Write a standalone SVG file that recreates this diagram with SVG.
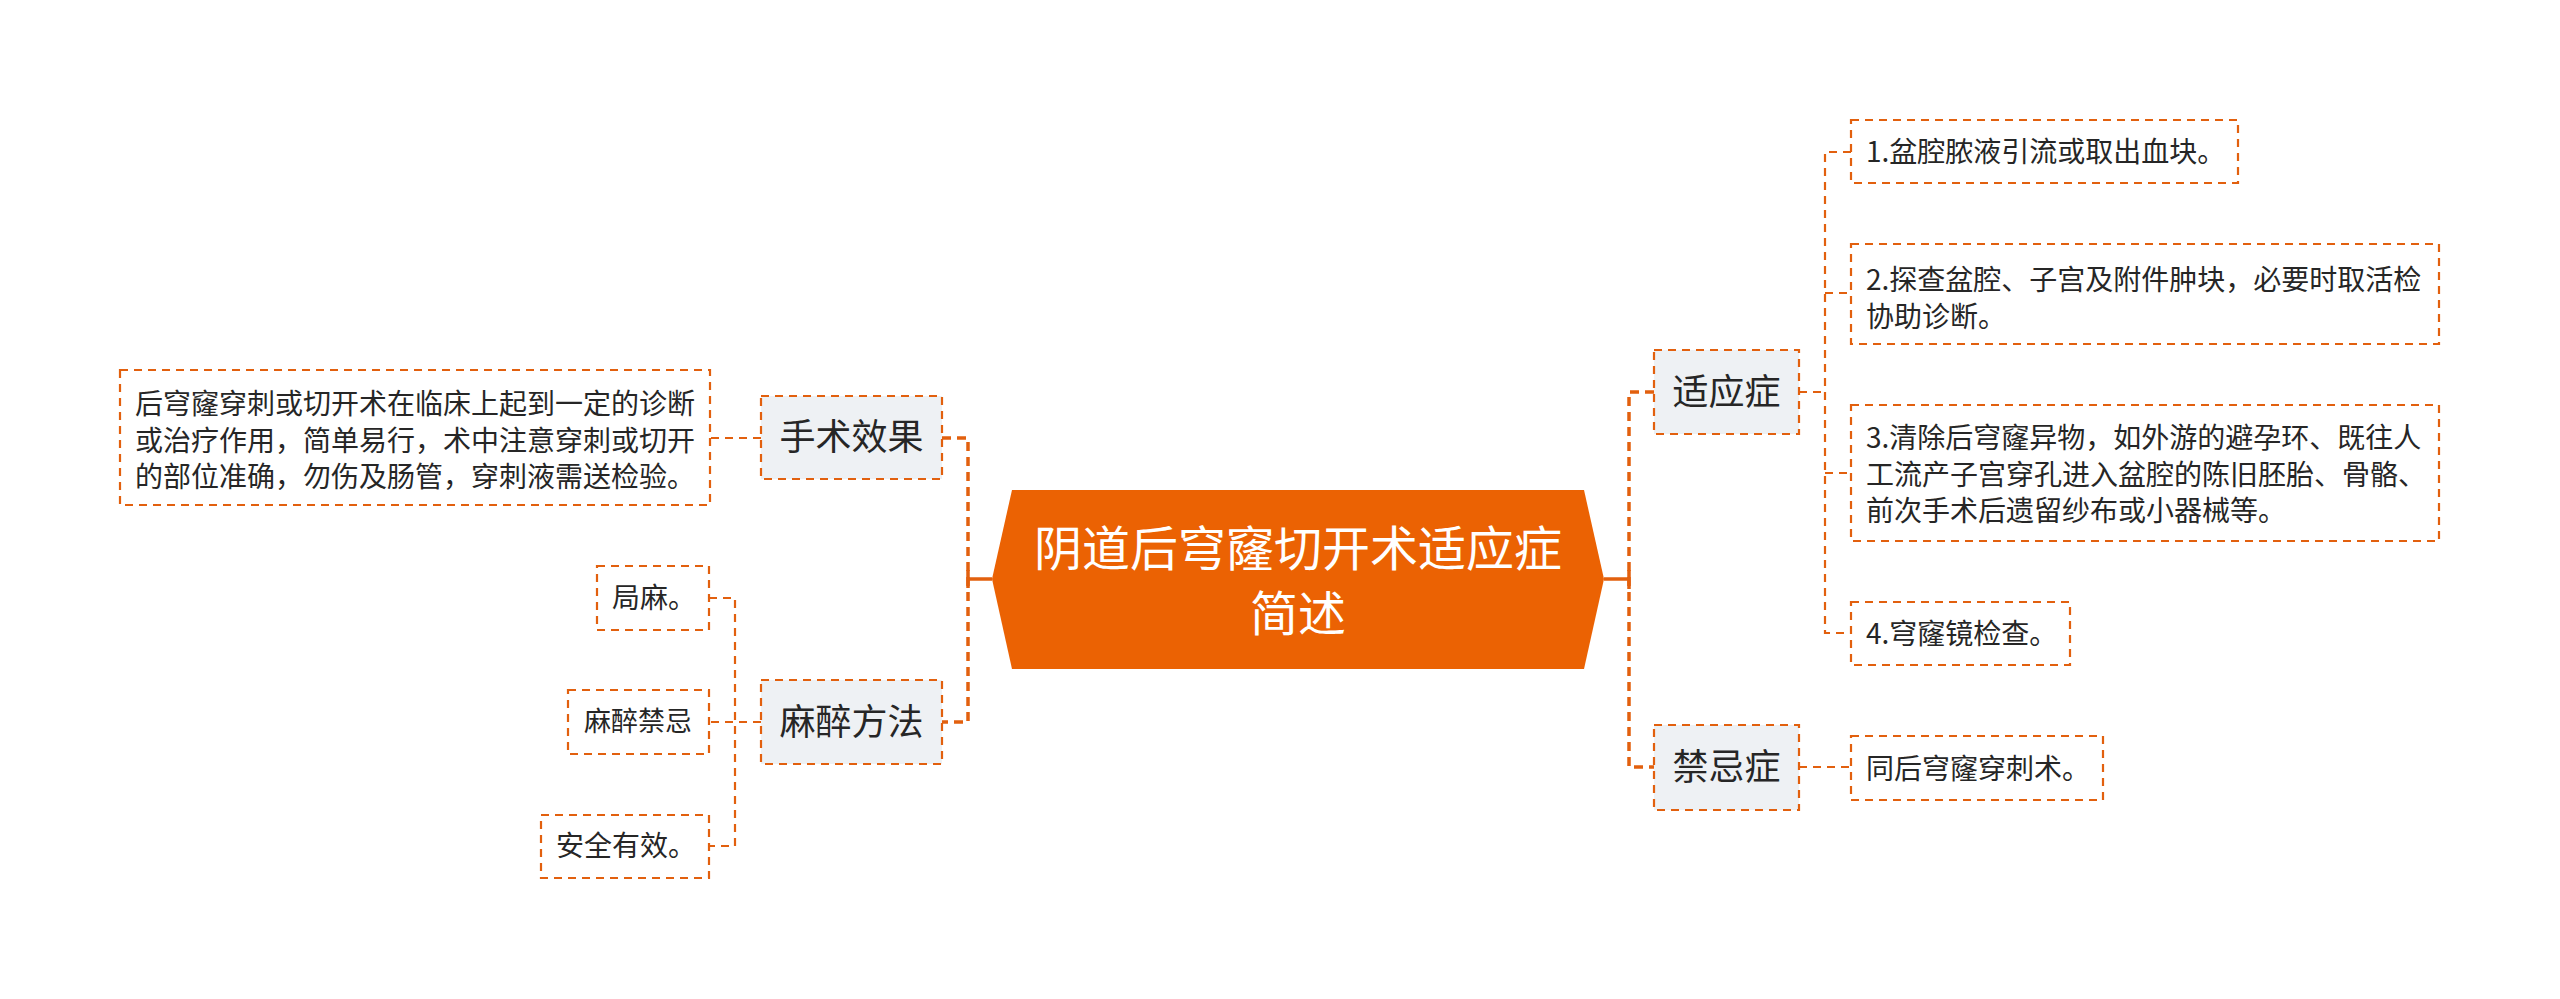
<svg xmlns="http://www.w3.org/2000/svg" width="2560" height="999" viewBox="0 0 2560 999">
<style>
.conn{fill:none;stroke:#e2600e;stroke-width:2.2;stroke-dasharray:8 6}
.spine{fill:none;stroke:#e2600e;stroke-width:3.5;stroke-dasharray:9 6}
.solid{fill:none;stroke:#e2600e;stroke-width:3.5}
.l1{fill:#eef1f4;stroke:#e2600e;stroke-width:2.2;stroke-dasharray:8 6}
.l2{fill:#ffffff;stroke:#e2600e;stroke-width:2.2;stroke-dasharray:8 6}
.t1{font-family:"Noto Sans CJK SC","Noto Sans",sans-serif;font-size:36px;fill:#262626;text-anchor:middle}
.t2{font-family:"Noto Sans CJK SC","Noto Sans",sans-serif;font-size:28px;fill:#262626}
.t0{font-family:"Noto Sans CJK SC","Noto Sans",sans-serif;font-size:48px;fill:#ffffff;text-anchor:middle}
</style>
<rect width="2560" height="999" fill="#ffffff"/>
<g id="connectors">
<path class="solid" d="M992 579H968M968 570V588"/>
<path class="spine" d="M942 438H968V722H942"/>
<path class="solid" d="M1604 579H1629M1629 570V589"/>
<path class="spine" d="M1654 392H1629V767H1654"/>
<path class="conn" d="M761 438H710"/>
<path class="conn" d="M761 722H709"/>
<path class="conn" d="M709 598H735V846H709"/>
<path class="conn" d="M1799 392H1825"/>
<path class="conn" d="M1851 152H1825V633H1851"/>
<path class="conn" d="M1825 293H1851"/>
<path class="conn" d="M1825 473H1851"/>
<path class="conn" d="M1799 767H1851"/>
</g>
<g id="root">
<polygon points="1012,490 1584,490 1604,579 1584,669 1012,669 992,579" fill="#eb6203"/>
<text class="t0" x="1298" y="566">阴道后穹窿切开术适应症</text>
<text class="t0" x="1298" y="631">简述</text>
</g>
<g id="n-effect">
<rect class="l1" x="761" y="396" width="181" height="83"/>
<text class="t1" x="851.5" y="450">手术效果</text>
</g>
<g id="n-effect-desc">
<rect class="l2" x="120" y="370" width="590" height="135"/>
<text class="t2" x="135" y="414">后穹窿穿刺或切开术在临床上起到一定的诊断</text>
<text class="t2" x="135" y="450.5">或治疗作用，简单易行，术中注意穿刺或切开</text>
<text class="t2" x="135" y="487">的部位准确，勿伤及肠管，穿刺液需送检验。</text>
</g>
<g id="n-anes">
<rect class="l1" x="761" y="680" width="181" height="84"/>
<text class="t1" x="851.5" y="735">麻醉方法</text>
</g>
<g id="n-anes-1">
<rect class="l2" x="597" y="566" width="112" height="64"/>
<text class="t2" x="612" y="608">局麻。</text>
</g>
<g id="n-anes-2">
<rect class="l2" x="568" y="690" width="141" height="64"/>
<text class="t2" x="584" y="731" style="font-size:27px">麻醉禁忌</text>
</g>
<g id="n-anes-3">
<rect class="l2" x="541" y="815" width="168" height="63"/>
<text class="t2" x="556" y="856">安全有效。</text>
</g>
<g id="n-indic">
<rect class="l1" x="1654" y="350" width="145" height="84"/>
<text class="t1" x="1726.5" y="405">适应症</text>
</g>
<g id="n-indic-1">
<rect class="l2" x="1851" y="120" width="387" height="63"/>
<text class="t2" x="1866" y="162">1.盆腔脓液引流或取出血块。</text>
</g>
<g id="n-indic-2">
<rect class="l2" x="1851" y="244" width="588" height="100"/>
<text class="t2" x="1866" y="290">2.探查盆腔、子宫及附件肿块，必要时取活检</text>
<text class="t2" x="1866" y="327">协助诊断。</text>
</g>
<g id="n-indic-3">
<rect class="l2" x="1851" y="405" width="588" height="136"/>
<text class="t2" x="1866" y="448">3.清除后穹窿异物，如外游的避孕环、既往人</text>
<text class="t2" x="1866" y="485">工流产子宫穿孔进入盆腔的陈旧胚胎、骨骼、</text>
<text class="t2" x="1866" y="521">前次手术后遗留纱布或小器械等。</text>
</g>
<g id="n-indic-4">
<rect class="l2" x="1851" y="602" width="219" height="63"/>
<text class="t2" x="1866" y="644">4.穹窿镜检查。</text>
</g>
<g id="n-contra">
<rect class="l1" x="1654" y="725" width="145" height="85"/>
<text class="t1" x="1726.5" y="780">禁忌症</text>
</g>
<g id="n-contra-1">
<rect class="l2" x="1851" y="736" width="252" height="64"/>
<text class="t2" x="1866" y="779">同后穹窿穿刺术。</text>
</g>
</svg>
